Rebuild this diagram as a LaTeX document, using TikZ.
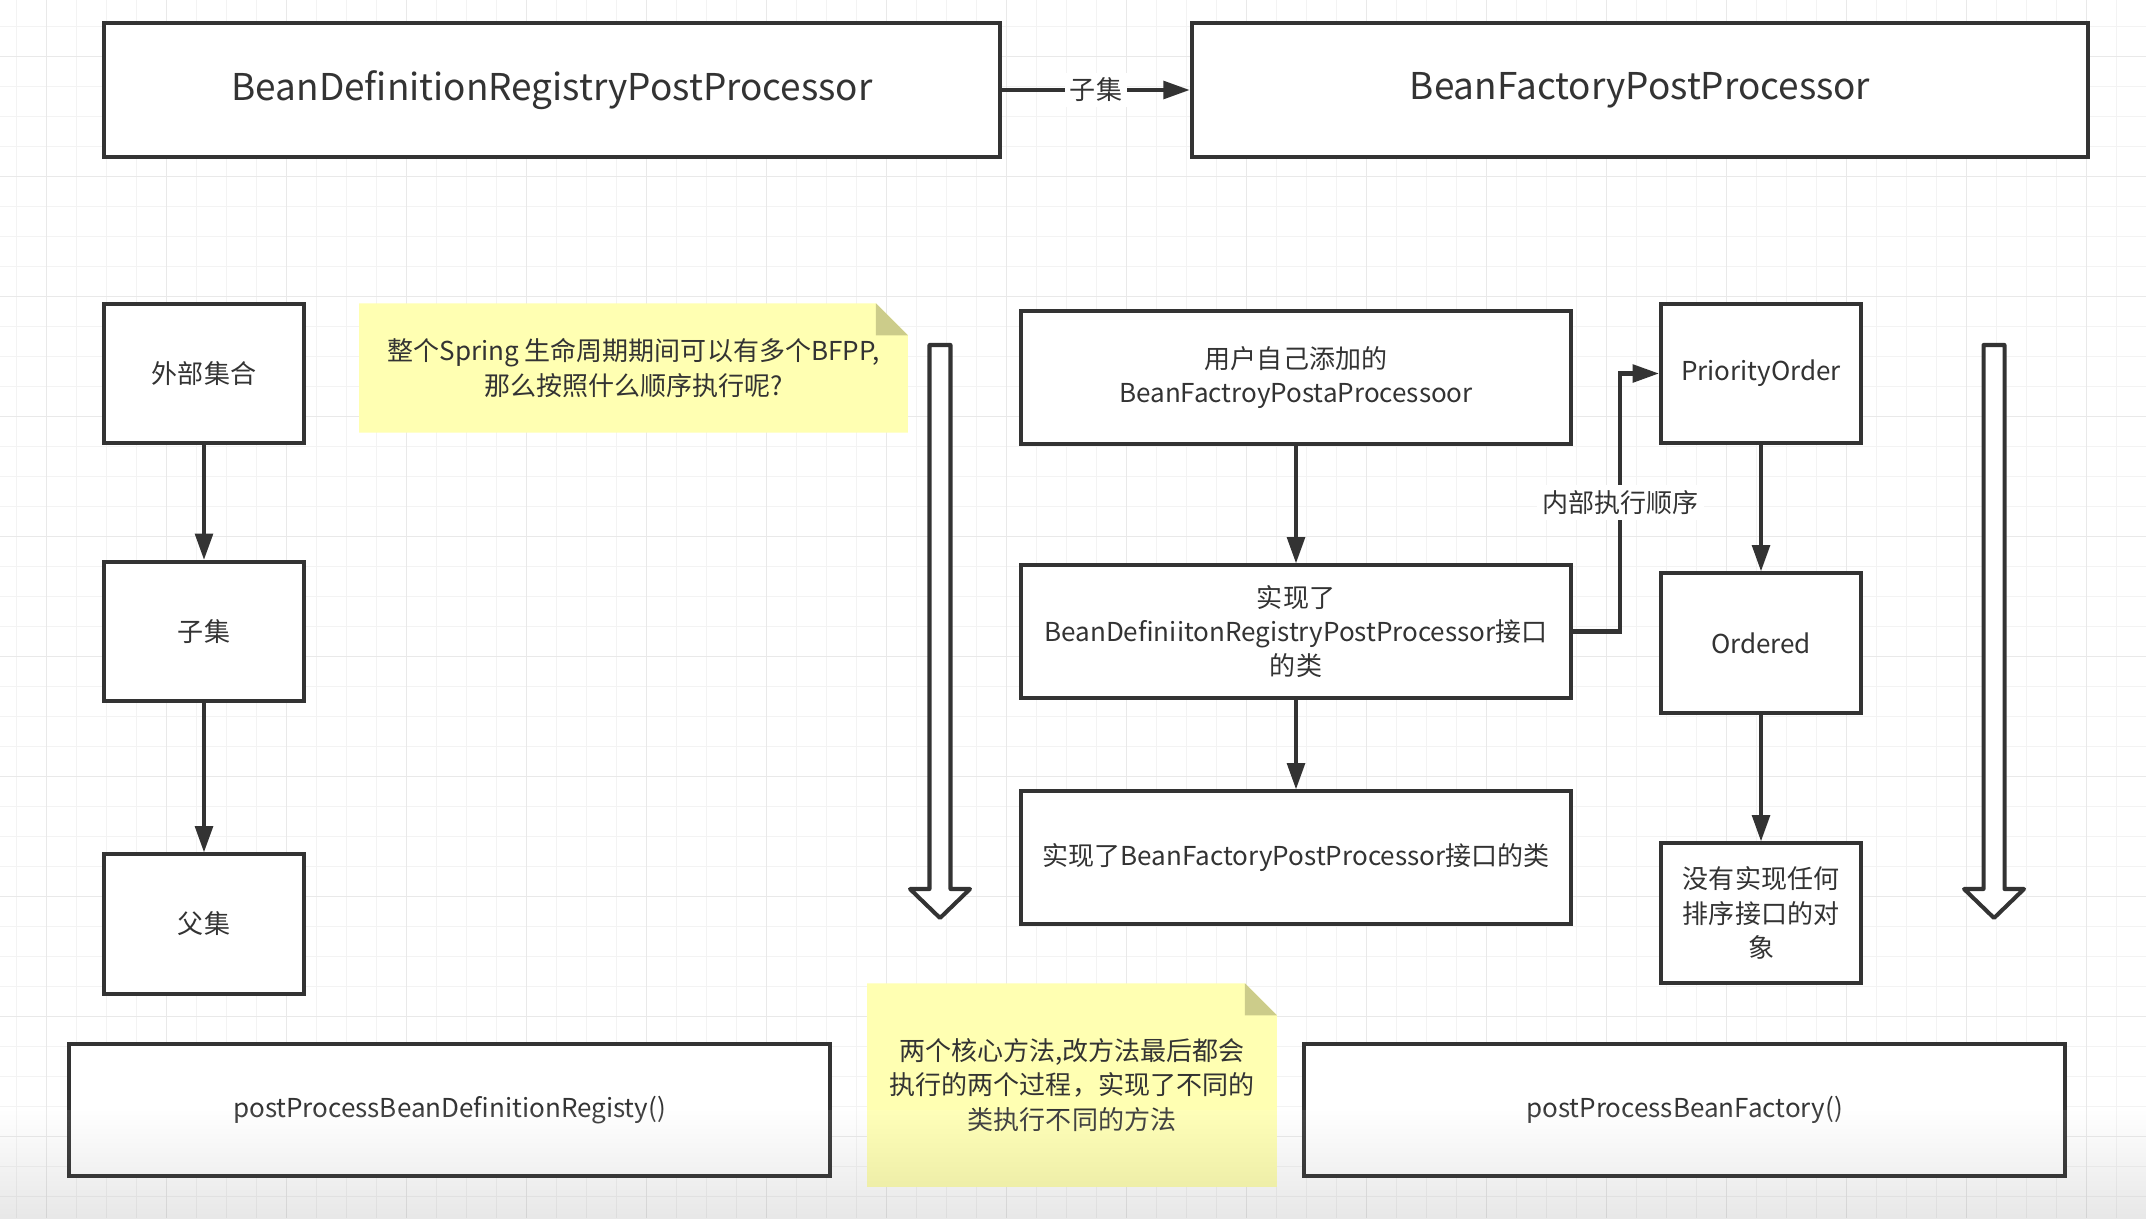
\documentclass[tikz,border=0pt]{standalone}
\usepackage{fontspec}
\setmainfont{Noto Sans CJK SC}
\usetikzlibrary{arrows.meta, calc, backgrounds}
\definecolor{ink}{RGB}{51,51,51}
\definecolor{gridminor}{RGB}{243,243,243}
\definecolor{gridmajor}{RGB}{233,233,233}
\definecolor{notefill}{RGB}{255,255,178}
\definecolor{notefold}{RGB}{204,204,138}

\begin{document}
\begin{tikzpicture}[
  x=0.01cm, y=-0.01cm,
  font=\fontsize{7.4}{9.8}\selectfont, text=ink,
  box/.style={draw=ink, fill=white, line width=1.15pt, align=center,
              inner sep=2pt, minimum width=2cm, minimum height=1.39cm},
  wbox/.style={box, minimum width=5.5cm, minimum height=1.32cm},
  topbox/.style={box, minimum width=8.96cm, minimum height=1.34cm,
                 font=\fontsize{10.5}{13}\selectfont},
  botbox/.style={box, minimum width=7.6cm, minimum height=1.32cm},
  note/.style={align=center, inner sep=0pt},
  conn/.style={draw=ink, line width=1.15pt, -{Triangle[length=7.5pt, width=5pt]}},
  lbl/.style={fill=white, inner sep=1.5pt},
  hollow/.style={draw=ink, fill=white, line width=1.15pt, line join=round},
]
\useasboundingbox (0,0) rectangle (2146,1218);
\begin{scope}[on background layer]
\fill[white] (0,0) rectangle (2146,1218);
\foreach \i in {0,...,71}
  \draw[gridminor, line width=.3pt] ({16.7+30*\i},0) -- ++(0,1218);
\foreach \i in {0,...,40}
  \draw[gridminor, line width=.3pt] (0,{26.7+30*\i}) -- ++(2146,0);
\foreach \i in {0,...,17}
  \draw[gridmajor, line width=.4pt] ({46.7+120*\i},0) -- ++(0,1218);
\foreach \i in {0,...,10}
  \draw[gridmajor, line width=.4pt] (0,{56.7+120*\i}) -- ++(2146,0);
\end{scope}

% top row
\node[topbox] (bdrpp) at (552,90) {BeanDefinitionRegistryPostProcessor};
\node[topbox] (bfpp) at (1640,90) {BeanFactoryPostProcessor};
\draw[conn] (bdrpp.east) -- node[lbl] (subl) {子集} (bfpp.west);

% left column
\node[box] (outer) at (204,373.5) {外部集合};
\node[box] (sub) at (204,631.5) {子集};
\node[box] (parent) at (204,924) {父集};
\draw[conn] (outer) -- (sub);
\draw[conn] (sub) -- (parent);

\node[note, minimum width=5.47cm, minimum height=1.28cm] (q) at (633.5,368)
  {整个Spring 生命周期期间可以有多个BFPP,\\那么按照什么顺序执行呢?};

% middle column
\node[wbox] (user) at (1296,377.5) {用户自己添加的\\BeanFactroyPostaProcessoor};
\node[wbox] (impl) at (1296,631.5)
  {实现了\\BeanDefiniitonRegistryPostProcessor接口\\的类};
\node[wbox] (implf) at (1296,857.5) {实现了BeanFactoryPostProcessor接口的类};
\draw[conn] (user) -- (impl);
\draw[conn] (impl) -- (implf);

% right column
\node[box] (prio) at (1761,373.5) {PriorityOrder};
\node[box] (ord) at (1761,643) {Ordered};
\node[box] (none) at (1761,913) {没有实现任何\\排序接口的对\\象};
\draw[conn] (prio) -- (ord);
\draw[conn] (ord) -- (none);
\draw[conn] (impl.east) -- ++(47,0) |- node[lbl, pos=.25] (inner) {内部执行顺序} (prio.west);

% hollow arrows
\foreach \ax in {940,1994}
  \draw[hollow] (\ax-10.5,345) -- (\ax+10.5,345) -- (\ax+10.5,889) -- (\ax+30,889)
    -- (\ax,918) -- (\ax-30,889) -- (\ax-10.5,889) -- cycle;

% bottom row
\node[botbox] (pbdr) at (449.5,1110) {postProcessBeanDefinitionRegisty()};
\node[botbox] (pbf) at (1684.5,1110) {postProcessBeanFactory()};
\node[note, minimum width=4.08cm, minimum height=2.02cm] (core) at (1072,1085)
  {两个核心方法,改方法最后都会\\执行的两个过程，实现了不同的\\类执行不同的方法};

% sticky note paper behind the texts
\begin{scope}[on background layer]
\foreach \n in {q,core}{
  \fill[notefill] (\n.north west) -- ($(\n.north east)+(-32,0)$) -- ($(\n.north east)+(0,32)$)
    -- (\n.south east) -- (\n.south west) -- cycle;
  \fill[notefold] ($(\n.north east)+(-32,0)$) -- ($(\n.north east)+(-32,32)$)
    -- ($(\n.north east)+(0,32)$) -- cycle;
}
\end{scope}

\shade[top color=white, bottom color=black, opacity=.09] (0,1110) rectangle (2146,1218);
\end{tikzpicture}
\end{document}
